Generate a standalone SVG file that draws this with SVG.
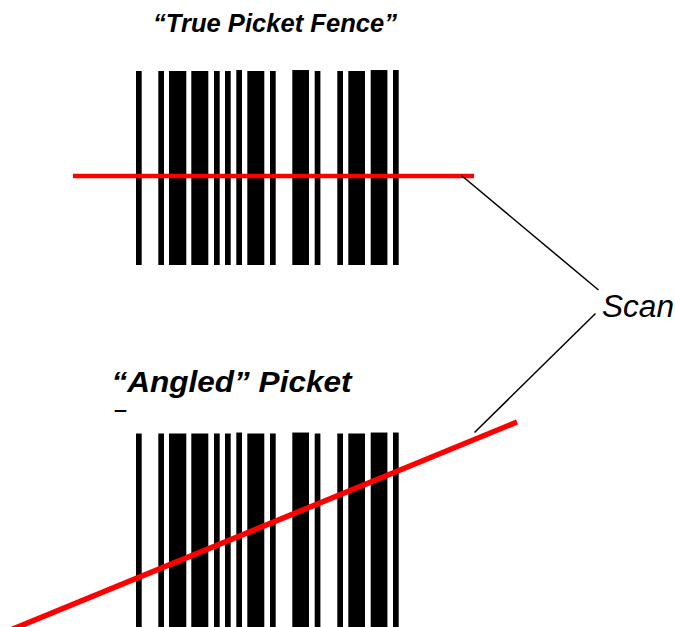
<svg xmlns="http://www.w3.org/2000/svg" width="675" height="627" viewBox="0 0 675 627">
<defs>
<style>
.bar{fill:#000}
.title{font-family:"Liberation Sans",Arial,sans-serif;font-weight:bold;font-style:italic;fill:#000}
.lbl{font-family:"Liberation Sans",Arial,sans-serif;font-style:italic;fill:#000}
.scan{stroke:#ff0000;fill:none}
.lead{stroke:#000;stroke-width:1.5;fill:none}
</style>
<g id="bars">
<rect class="bar" x="136" y="0" width="5.7" height="1"/>
<rect class="bar" x="158.3" y="0" width="5.7" height="1"/>
<rect class="bar" x="169" y="0" width="17.3" height="1"/>
<rect class="bar" x="191.3" y="0" width="17" height="1"/>
<rect class="bar" x="214" y="0" width="5.7" height="1"/>
<rect class="bar" x="225" y="0" width="5.7" height="1"/>
<rect class="bar" x="236.3" y="-0.005" width="5.7" height="1.005"/>
<rect class="bar" x="247.3" y="0" width="17" height="1"/>
<rect class="bar" x="270" y="0" width="5.7" height="1"/>
<rect class="bar" x="292.3" y="-0.005" width="16.7" height="1.005"/>
<rect class="bar" x="314.7" y="0" width="5.7" height="1"/>
<rect class="bar" x="337.3" y="0" width="5.7" height="1"/>
<rect class="bar" x="348.3" y="0" width="16.7" height="1"/>
<rect class="bar" x="370.7" y="-0.005" width="16.7" height="1.005"/>
<rect class="bar" x="393" y="-0.005" width="5.7" height="1.005"/>
</g>
</defs>
<rect width="675" height="627" fill="#fff"/>
<g id="barcode-top">
<use href="#bars" transform="translate(0,71) scale(1,194)"/>
</g>
<g id="barcode-bottom">
<use href="#bars" transform="translate(0,433.5) scale(1,194)"/>
</g>
<g id="title-top">
<text class="title" x="153" y="32" font-size="25" textLength="244" lengthAdjust="spacingAndGlyphs">“True Picket Fence”</text>
</g>
<g id="title-bottom">
<text class="title" x="111.5" y="392" font-size="29" textLength="240" lengthAdjust="spacingAndGlyphs">“Angled” Picket</text>
<text class="title" x="114" y="416" font-size="20" textLength="13" lengthAdjust="spacingAndGlyphs">–</text>
</g>
<g id="scan-label">
<text class="lbl" x="602" y="317" font-size="31" textLength="72" lengthAdjust="spacingAndGlyphs">Scan</text>
</g>
<g id="connectors">
<line class="scan" stroke-width="4.5" x1="73" y1="176" x2="474" y2="176"/>
<line class="scan" stroke-width="5.5" x1="8" y1="631" x2="517" y2="422"/>
<line class="lead" x1="461.5" y1="175.5" x2="598.5" y2="290"/>
<line class="lead" x1="595.5" y1="313.5" x2="474.5" y2="432.5"/>
</g>
</svg>
